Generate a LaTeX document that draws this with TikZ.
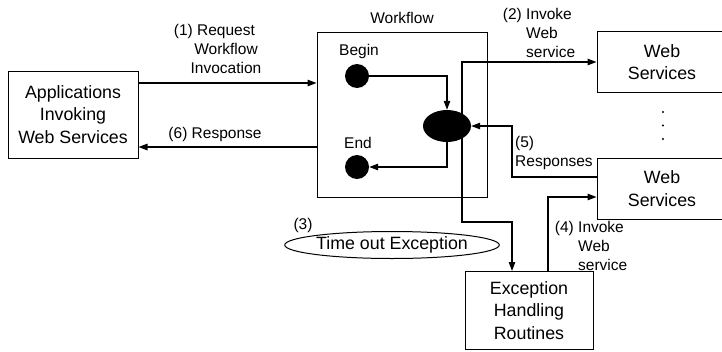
\documentclass[tikz,border=0pt]{standalone}
\usepackage{fontspec}
\setmainfont{Liberation Sans}
\usetikzlibrary{arrows.meta,shapes.geometric,calc}
\pgfdeclarelayer{bg}
\pgfsetlayers{bg,main}

\begin{document}
\begin{tikzpicture}[x=1pt,y=-1pt,
  box/.style={draw,line width=1pt,inner sep=0pt,align=center,
              font=\fontsize{17.8}{22.5}\selectfont},
  lbl/.style={inner sep=0pt,font=\fontsize{15.5}{19}\selectfont},
  conn/.style={line width=1.2pt},
  arr/.style={conn,-{Triangle[length=9pt,width=6.5pt]}},
  dotnode/.style={circle,fill=black,inner sep=0pt,minimum size=24pt},
  smalldot/.style={circle,fill=black,inner sep=0pt,minimum size=2.2pt}
]
\useasboundingbox (0,0) rectangle (722,351);
\clip (0,0) rectangle (722,351);

% main boxes
\node[box,minimum width=130pt,minimum height=87pt] (app) at (73,114.5)
  {Applications\\Invoking\\Web Services};
\node[box,minimum width=170pt,minimum height=165pt] (wf) at (402,114.5) {};
\node[box,minimum width=130pt,minimum height=61pt] (ws1) at (662,62) {Web\\Services};
\node[box,minimum width=130pt,minimum height=61pt] (ws2) at (662,188.5) {Web\\Services};
\node[box,minimum width=128pt,minimum height=78pt] (exc) at (529,310.5)
  {Exception\\Handling\\Routines};

% workflow internals
\node[dotnode] (begin) at (357,76) {};
\node[dotnode] (end) at (357,167) {};
\node[ellipse,fill=black,inner sep=0pt,minimum width=48pt,minimum height=32pt] (act) at (447,126) {};

% timeout event
\node[ellipse,draw,line width=1pt,inner sep=0pt,minimum width=207pt,minimum height=27pt,
      font=\fontsize{17.8}{20}\selectfont] (tmo) at (392,245) {Time out Exception};

% continuation dots
\node[smalldot] (d1) at (663,112) {};
\node[smalldot] (d2) at (663,125.5) {};
\node[smalldot] (d3) at (663,139) {};

% labels
\node[lbl] (wflbl) at (402,18) {Workflow};
\node[lbl] (beginlbl) at (359,51) {Begin};
\node[lbl] (endlbl) at (358,143) {End};
\node[lbl,align=center] (l1) at (226,49) {\llap{(1) }Request\\Workflow\\Invocation};
\node[lbl] (l6) at (215,134) {(6) Response};
\node[lbl,align=left,anchor=west] (l2) at (526,33) {\llap{(2) }Invoke\\Web\\service};
\node[lbl,align=left,anchor=west] (l5) at (515,153) {(5)\\Responses};
\node[lbl,align=left,anchor=west] (l4) at (578,246) {\llap{(4) }Invoke\\Web\\service};
\node[lbl] (l3) at (303,225) {(3)};

% routing points
\coordinate (r1) at (0,83);
\coordinate (r6) at (0,147);
\coordinate (c2) at (462,0);
\coordinate (bend3) at (462,222);
\coordinate (drop3) at (512,222);
\coordinate (r5) at (512,177);
\coordinate (r4) at (548,197);

\begin{pgfonlayer}{bg}
  \draw[arr] (app.east |- r1) -- (wf.west |- r1);
  \draw[arr] (wf.west |- r6) -- (app.east |- r6);
  \draw[arr] (begin.east) -| (act.north);
  \draw[arr] (act.south) |- (end.east);
  \draw[arr] (act.center -| c2) |- (ws1.west);
  \draw[arr] (act.center -| c2) -- (bend3) -- (drop3) -- (drop3 |- exc.north);
  \draw[arr] (ws2.west |- r5) -- (r5) |- (act.east);
  \draw[arr] (exc.north -| r4) -- (r4) -- (ws2.west |- r4);
\end{pgfonlayer}
\end{tikzpicture}
\end{document}
